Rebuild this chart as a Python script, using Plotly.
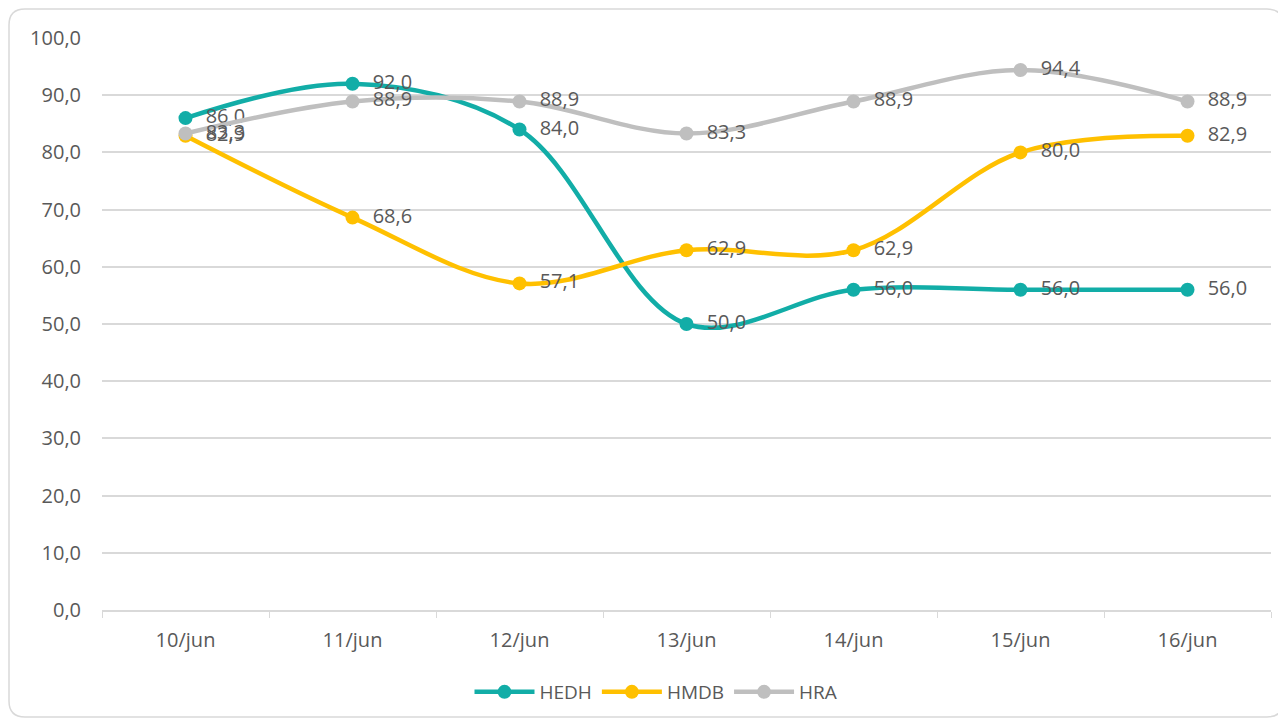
import plotly.graph_objects as go

categories = ["10/jun", "11/jun", "12/jun", "13/jun", "14/jun", "15/jun", "16/jun"]
hedh = [86.0, 92.0, 84.0, 50.0, 56.0, 56.0, 56.0]
hmdb = [82.9, 68.6, 57.1, 62.9, 62.9, 80.0, 82.9]
hra = [83.3, 88.9, 88.9, 83.3, 88.9, 94.4, 88.9]
y_ticks = [0, 10, 20, 30, 40, 50, 60, 70, 80, 90, 100]

series = [("HEDH", hedh, "#12ADA7"), ("HMDB", hmdb, "#FFC000"), ("HRA", hra, "#BFBFBF")]

# page body adds an 8px offset; layout coordinates below are the reference's minus 8
OFF = 8
W, H = 1286, 725
ml, mt = 102 - OFF, 38 - OFF
plot_right, plot_bottom = 1271 - OFF, 610 - OFF
mr, mb = W - plot_right, H - plot_bottom
pw, ph = plot_right - ml, plot_bottom - mt

fig = go.Figure()
for name, vals, col in series:
    fig.add_trace(go.Scatter(
        x=categories, y=vals, name=name, mode="lines+markers+text",
        line=dict(color=col, width=4.5, shape="spline", smoothing=1.0),
        marker=dict(color=col, size=14),
        text=vals, texttemplate="\u00a0\u00a0%{y:.1f}", textposition="middle right",
        textfont=dict(family="Open Sans", size=20, color="#595959"),
        cliponaxis=False,
    ))

def px2x(p):
    return (p - OFF - ml) / pw

def py2y(p):
    return (plot_bottom - (p - OFF)) / ph

x0, x1, y0, y1, r = 9, 1283, 9, 717, 16
path = (f"M {px2x(x0 + r)},{py2y(y0)} L {px2x(x1 - r)},{py2y(y0)} "
        f"Q {px2x(x1)},{py2y(y0)} {px2x(x1)},{py2y(y0 + r)} "
        f"L {px2x(x1)},{py2y(y1 - r)} Q {px2x(x1)},{py2y(y1)} {px2x(x1 - r)},{py2y(y1)} "
        f"L {px2x(x0 + r)},{py2y(y1)} Q {px2x(x0)},{py2y(y1)} {px2x(x0)},{py2y(y1 - r)} "
        f"L {px2x(x0)},{py2y(y0 + r)} Q {px2x(x0)},{py2y(y0)} {px2x(x0 + r)},{py2y(y0)} Z")

fig.update_layout(
    width=W, height=H,
    margin=dict(l=ml, r=mr, t=mt, b=mb),
    paper_bgcolor="white", plot_bgcolor="white",
    separators=",.",
    font=dict(family="Open Sans", size=18, color="#595959"),
    showlegend=True,
    legend=dict(orientation="h", x=px2x(656), xanchor="center", y=py2y(692), yanchor="middle",
                font=dict(size=19, color="#595959"), itemwidth=60, traceorder="normal"),
    shapes=[dict(type="path", xref="paper", yref="paper", path=path,
                 line=dict(color="#D9D9D9", width=1.5), layer="below")],
    xaxis=dict(type="category", showgrid=False, showline=True, linecolor="#D9D9D9", linewidth=1.5,
               ticks="outside", tickson="boundaries", ticklen=6, tickcolor="#D9D9D9",
               tickfont=dict(size=20, color="#595959"), range=[-0.5, 6.5],
               ticklabelstandoff=11),
    yaxis=dict(range=[0, 100], tickvals=y_ticks, tickformat=".1f", showgrid=True,
               gridcolor="#D9D9D9", gridwidth=1.5, zeroline=False, showline=False,
               tickfont=dict(size=20, color="#595959"), ticklabelstandoff=20),
)

fig.write_html("out.html")
